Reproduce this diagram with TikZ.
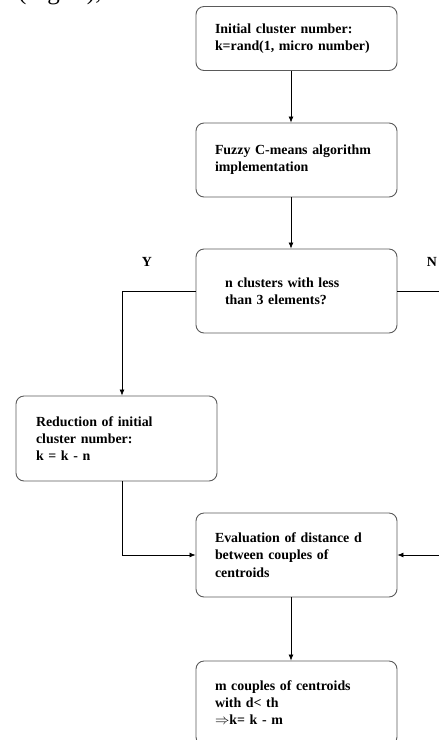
\documentclass[tikz,border=0pt]{standalone}
\usepackage{fontspec}
\setmainfont{Liberation Serif}
\usetikzlibrary{arrows.meta}
\definecolor{boxgray}{HTML}{5A5A5A}
\tikzset{
  box/.style={draw=boxgray, line width=0.9pt, rounded corners=8pt, minimum width=201pt,
    inner xsep=0pt, inner ysep=0pt, align=left, font=\fontsize{13.9}{17}\selectfont\bfseries},
  conn/.style={line width=0.7pt, black},
  arr/.style={conn, -{Latex[length=6pt,width=5pt]}},
  lbl/.style={font=\fontsize{13.9}{17}\selectfont\bfseries, inner sep=0pt},
  capt/.style={font=\fontsize{25}{30}\selectfont, inner sep=0pt, anchor=base west}
}
\begin{document}
\begin{tikzpicture}[x=1pt,y=-1pt]
\useasboundingbox (0,0) rectangle (439,740);
\begin{scope}
\clip (0,0) rectangle (439,740);
\node[capt] (cap) at (18,-1) {(Fig. 1),};

\node[box, minimum height=64pt, text width=163pt] (b1) at (296.5,38.5)
  {Initial cluster number:\\ k=rand(1, micro number)};
\node[box, minimum height=74pt, text width=163pt] (b2) at (296.5,160)
  {Fuzzy C-means algorithm\\ implementation\\[14pt]};
\node[box, minimum height=84pt, text width=143pt] (b3) at (296.5,291)
  {n clusters with less\\ than 3 elements?};
\node[box, minimum height=85pt, text width=161pt] (b4) at (116.5,438.5)
  {Reduction of initial\\ cluster number:\\ k = k - n\\[4pt]};
\node[box, minimum height=84pt, text width=163pt] (b5) at (296.5,555)
  {Evaluation of distance d\\ between couples of\\[1pt] centroids\\[4pt]};
\node[box, minimum height=84pt, text width=163pt] (b6) at (296.5,703)
  {m couples of centroids\\ with d\textless{} th\\ $\Rightarrow$k= k - m\\[4pt]};

\node[lbl] (Y) at (147,262) {Y};
\node[lbl] (N) at (432,262) {N};

\coordinate (r1) at (445,291);
\coordinate (r2) at (445,554);

\draw[arr] ([xshift=-5.5pt]b1.south) -- ([xshift=-5.5pt]b2.north);
\draw[arr] ([xshift=-5.5pt]b2.south) -- ([xshift=-5.5pt]b3.north);
\draw[arr] (b3.west) -| ([xshift=5.5pt]b4.north);
\draw[conn] (b3.east) -- (r1 |- b3.east);
\draw[arr] ([xshift=5.5pt]b4.south) |- (b5.west);
\draw[arr] (r2 |- b5.east) -- (b5.east);
\draw[arr] ([xshift=-5.5pt]b5.south) -- ([xshift=-5.5pt]b6.north);
\end{scope}
\end{tikzpicture}
\end{document}
